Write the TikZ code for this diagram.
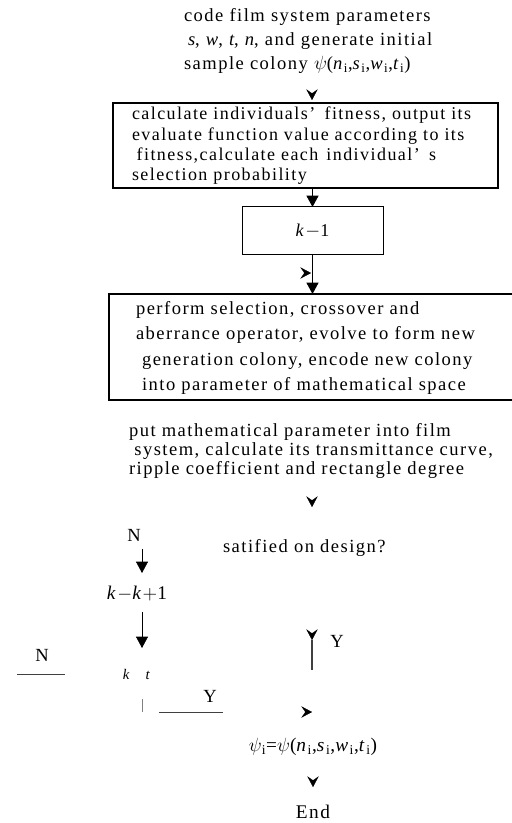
\documentclass[tikz,border=0pt]{standalone}
\usepackage{fontspec}
\setmainfont{Liberation Serif}[LetterSpace=8]
\usetikzlibrary{arrows.meta, positioning}
\tikzset{
	every node/.style={inner sep=0pt, outer sep=0pt}, % nodes sit exactly on their points
	txt/.style={font=\fontsize{13.9}{18}\selectfont, align=left, anchor=west},
	flowbox/.style={draw, line width=1pt},
	flow/.style={line width=0.8pt, -{Triangle[length=8.5pt,width=9pt]}}, % shaft with solid head
	lonehead/.style={line width=0.1pt, -{Stealth[length=8pt,width=8.5pt,inset=3pt]}}, % head with no shaft
	stub/.style={line width=0.6pt, draw=black!75},
}
\begin{document}
\begin{tikzpicture}[x=0.75pt, y=-0.75pt]
	\useasboundingbox (0,0) rectangle (511,823);
	
	% initial colony
	\node[txt] (init) at (184,41)
	{code film system parameters\\ \hspace*{3pt}\textit{s}, \textit{w}, \textit{t}, \textit{n}, and generate initial\\ sample colony $\psi$(\textit{n}\textsubscript{i},\textit{s}\textsubscript{i},\textit{w}\textsubscript{i},\textit{t}\textsubscript{i})};
	\coordinate (h0) at (312,100);
	\draw[lonehead] (h0) ++(0,-1) -- (h0);
	
	% fitness box
	\node[flowbox, minimum width=288.75pt, minimum height=63.75pt] (fitbox) at (305.5,145.5) {};
	\node[txt, font=\fontsize{13.5}{15.2}\selectfont] (fittxt) at (132,146)
	{calculate individuals’\hspace{7pt}fitness, output its\\ evaluate function value according to its\\ \hspace*{3.5pt}fitness,calculate each\hspace{6pt}individual’\hspace{7pt}s\\ selection probability};
	
	% counter
	\node[flowbox, line width=0.75pt, minimum width=105.75pt, minimum height=36pt] (kone) at (312.5,231) {\fontsize{13.5}{15}\selectfont\textit{k}$-$1};
	\draw[flow] (fitbox.south -| kone.north) -- (kone.north);
	
	% genetic operators
	\node[flowbox, line width=1.4pt, minimum width=303.75pt, minimum height=79.5pt] (opbox) at (311.5,347) {};
	\node[txt, font=\fontsize{13.9}{19}\selectfont] (optxt) at (136,348)
	{perform selection, crossover and\\ aberrance operator, evolve to form new\\ \hspace*{4.5pt}generation colony, encode new colony\\ \hspace*{4.5pt}into parameter of mathematical space};
	\draw[flow] (kone.south) -- (kone.south |- opbox.north);
	\coordinate (hr1) at (311,273);
	\draw[lonehead] (hr1) ++(-1,0) -- (hr1);
	
	% film evaluation
	\node[txt, font=\fontsize{13.9}{14.3}\selectfont] (evaltxt) at (129,451)
	{put mathematical parameter into film\\ \hspace*{4pt}system, calculate its transmittance curve,\\ ripple coefficient and rectangle degree};
	\coordinate (h4) at (312,507);
	\draw[lonehead] (h4) ++(0,-1) -- (h4);
	
	% decision
	\node[txt] (sat) at (223,548) {satified on design?};
	\node[txt, anchor=center] (nup) at (134,535) {N};
	\coordinate (a1s) at (142,549);
	\coordinate (a1e) at (142,573);
	\draw[flow, line width=0.5pt] (a1s) -- (a1e);
	\node[txt, anchor=center, font=\fontsize{14.5}{16}\selectfont] (kinc) at (137,594) {\textit{k}$-$\textit{k}$+$1};
	\coordinate (a2s) at (142,612);
	\coordinate (a2e) at (142,648);
	\draw[flow, line width=0.5pt] (a2s) -- (a2e);
	
	\node[txt, anchor=center] (yup) at (337,641) {Y};
	\coordinate (yl1) at (312,640);
	\coordinate (yl2) at (312,670);
	\draw[lonehead] (yl1) ++(0,-1) -- (yl1);
	\draw[stub, line width=1.1pt] (yl1) -- (yl2);
	
	\node[txt, anchor=center] (nlow) at (42,655) {N};
	\coordinate (nl1) at (17,674);
	\coordinate (nl2) at (65,674);
	\draw[stub] (nl1) -- (nl2);
	\node[txt, anchor=center, font=\fontsize{11}{13}\selectfont] (kt) at (137,674) {\textit{k}\quad\textit{t}};
	\coordinate (tk1) at (142,699);
	\coordinate (tk2) at (142,712);
	\draw[stub, draw=black!50] (tk1) -- (tk2);
	\node[txt, anchor=center] (ylow) at (210,696) {Y};
	\coordinate (yw1) at (159,712);
	\coordinate (yw2) at (223,712);
	\draw[stub] (yw1) -- (yw2);
	\coordinate (hr2) at (312,712);
	\draw[lonehead] (hr2) ++(-1,0) -- (hr2);
	
	% result
	\node[txt, anchor=center, font=\fontsize{14.5}{16}\selectfont] (best) at (313,747)
	{$\psi$\textsubscript{i}=$\psi$(\textit{n}\textsubscript{i},\textit{s}\textsubscript{i},\textit{w}\textsubscript{i},\textit{t}\textsubscript{i})};
	\coordinate (h5) at (313,787);
	\draw[lonehead] (h5) ++(0,-1) -- (h5);
	\node[txt, anchor=center, font=\fontsize{14.5}{16}\selectfont] (endn) at (313,812) {End};
	
\end{tikzpicture}
\end{document}
